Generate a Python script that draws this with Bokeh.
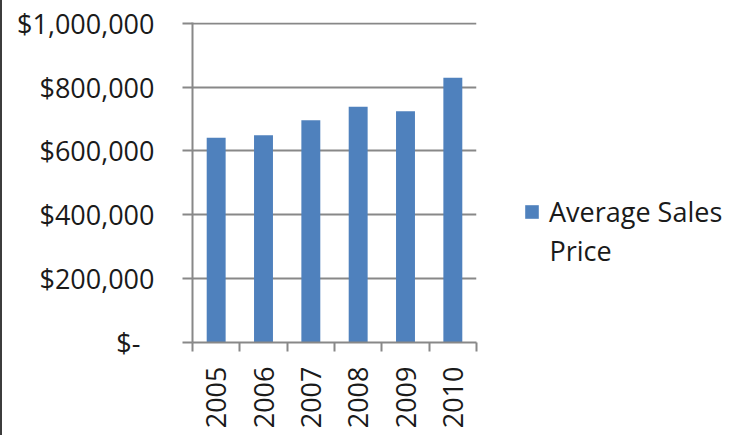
import math
from bokeh.plotting import figure
from bokeh.layouts import row
from bokeh.models import (FactorRange, Range1d, LinearAxis, FixedTicker, Legend, LegendItem, Grid, Label)
from bokeh.embed import file_html
from bokeh.resources import INLINE

# ---- data ----
years = ["2005", "2006", "2007", "2008", "2009", "2010"]
prices = [641000, 649000, 696000, 738000, 724000, 829000]
series_name_lines = ["Average Sales", "Price"]
y_ticks = [0, 200000, 400000, 600000, 800000, 1000000]
y_tick_labels = ["$-\u00a0\u00a0", "$200,000", "$400,000", "$600,000", "$800,000", "$1,000,000"]

FONT = "Open Sans"
GRAY = "#888888"
BLUE = "#4F81BD"
TXT = "#1a1a1a"
FS = "27px"

p = figure(width=500, height=435, output_backend="svg", toolbar_location=None,
           x_range=FactorRange(*years), y_range=Range1d(0, 1002000),
           x_axis_type=None, y_axis_type=None)
p.min_border_left = 190
p.min_border_right = 26
p.min_border_top = 22
p.min_border_bottom = 93
p.outline_line_color = None
p.background_fill_color = "white"
p.border_fill_color = "white"
p.styles = {"border-left": "2px solid #3c3c3c"}

r = p.vbar(x=years, top=prices, width=0.4, fill_color=BLUE, line_color=None)

# y axis
yax = LinearAxis(ticker=FixedTicker(ticks=y_ticks, minor_ticks=[]),
                 major_label_overrides={t: l for t, l in zip(y_ticks, y_tick_labels)})
yax.axis_line_color = GRAY
yax.axis_line_width = 2
yax.major_tick_line_color = GRAY
yax.major_tick_line_width = 2
yax.major_tick_out = 10
yax.major_tick_in = 0
yax.minor_tick_line_color = None
yax.major_label_standoff = 28
yax.major_label_text_font = FONT
yax.major_label_text_font_size = FS
yax.major_label_text_color = TXT
p.add_layout(yax, "left")

# x axis: labels at category centres, tick marks at category boundaries
n = len(years)
centres = [i + 0.5 for i in range(n)]
bounds = [float(i) for i in range(n + 1)]
xax = LinearAxis(ticker=FixedTicker(ticks=centres, minor_ticks=bounds),
                 major_label_overrides={c: y for c, y in zip(centres, years)})
xax.axis_line_color = GRAY
xax.axis_line_width = 2
xax.major_tick_line_color = None
xax.major_tick_out = 0
xax.major_tick_in = 0
xax.minor_tick_line_color = GRAY
xax.minor_tick_line_width = 2
xax.minor_tick_out = 9
xax.minor_tick_in = 0
xax.major_label_orientation = math.pi / 2
xax.major_label_standoff = 15
xax.major_label_text_font = FONT
xax.major_label_text_font_size = FS
xax.major_label_text_color = TXT
p.add_layout(xax, "below")

# grid
g = Grid(dimension=1, ticker=yax.ticker, grid_line_color=GRAY, grid_line_width=2)
p.add_layout(g)

# ---- legend panel ----
p2 = figure(width=240, height=435, output_backend="svg", toolbar_location=None,
            x_axis_type=None, y_axis_type=None, x_range=Range1d(0, 1), y_range=Range1d(0, 1))
p2.min_border = 0
p2.outline_line_color = None
p2.background_fill_color = "white"
p2.border_fill_color = "white"
# swatch source for the legend (kept outside the visible range)
r2 = p2.vbar(x=[5], top=[5], bottom=[4], width=0.4, fill_color=BLUE, line_color=None)

legend = Legend(items=[LegendItem(label=series_name_lines[0], renderers=[r2])],
                location=(23, 112), padding=0, margin=0, spacing=0,
                glyph_width=17, glyph_height=17, label_standoff=9,
                label_text_font=FONT, label_text_font_size=FS,
                label_text_color=TXT, border_line_color=None,
                background_fill_alpha=0)
p2.add_layout(legend)
p2.add_layout(Label(x=49, y=92, x_units="screen", y_units="screen",
                    text=series_name_lines[1], text_font=FONT, text_font_size=FS,
                    text_color=TXT, text_baseline="alphabetic"))

layout = row(p, p2, spacing=0)
open("out.html", "w").write(file_html(layout, INLINE))
